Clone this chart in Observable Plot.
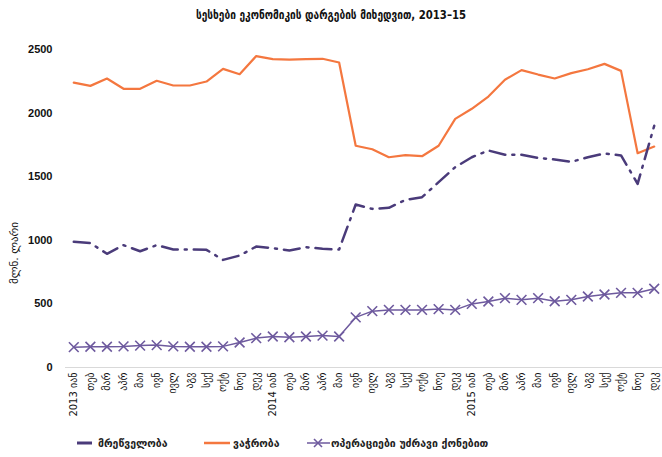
<!DOCTYPE html>
<html>
<head>
<meta charset="utf-8">
<script src="https://cdn.jsdelivr.net/npm/d3@7"></script>
<script src="https://cdn.jsdelivr.net/npm/@observablehq/plot@0.6"></script>
<style>
  body { margin: 0; background: #fff; }
  #wrap { position: relative; width: 662px; height: 457px; font-family: "DejaVu Sans", sans-serif; }
  #title { position: absolute; left: 0; top: 7px; width: 662px; text-align: center; font-size: 13px; font-weight: bold; color: #111; transform: scaleX(0.78); transform-origin: 331px 50%; }
  #chart { position: absolute; left: 0; top: 36px; }
  #ylab { position: absolute; left: 14px; top: 253px; transform: translate(-50%, -50%) rotate(-90deg); font-size: 11px; color: #111; white-space: nowrap; }
  .leg { position: absolute; top: 433px; height: 20px; display: flex; align-items: center; font-size: 10.5px; font-weight: bold; color: #222; white-space: nowrap; }
  svg [aria-label="y-axis tick label"] { font-weight: bold; }
</style>
</head>
<body>
<div id="wrap">
  <div id="title"></div>
  <div id="chart"></div>
  <div id="ylab"></div>
  <div id="legend"></div>
</div>
<script>
const title = "სესხები ეკონომიკის დარგების მიხედვით, 2013–15";
const yLabel = "მლნ. ლარი";
const years = [2013, 2014, 2015];
const months = ["იან","თებ","მარ","აპრ","მაი","ივნ","ივლ","აგვ","სექ","ოქტ","ნოე","დეკ"];
const yTicks = [0, 500, 1000, 1500, 2000, 2500];
const seriesNames = ["მრეწველობა", "ვაჭრობა", "ოპერაციები უძრავი ქონებით"];
const colors = ["#4a3b7a", "#f4773f", "#6e5a9e"];

const industry = [988,978,894,962,914,962,928,928,925,846,880,951,938,920,946,933,928,1281,1247,1255,1318,1339,1457,1575,1653,1706,1672,1672,1648,1635,1617,1653,1682,1667,1444,1900];
const trade = [2240,2214,2272,2191,2191,2254,2217,2217,2248,2348,2306,2448,2424,2421,2424,2427,2398,1743,1716,1653,1669,1661,1743,1955,2034,2130,2262,2338,2303,2272,2314,2345,2387,2332,1685,1737];
const realEstate = [160,163,163,166,172,176,166,163,163,166,197,231,244,238,244,251,244,394,443,453,453,453,459,453,500,519,545,532,545,521,532,558,574,587,587,619];

const labels = [];
years.forEach(y => months.forEach((m, j) => labels.push(j === 0 ? y + " " + m : m)));
const idx = d3.range(labels.length);

document.getElementById("title").textContent = title;
document.getElementById("ylab").textContent = yLabel;

const plot = Plot.plot({
  width: 662,
  height: 391,
  marginLeft: 65,
  marginRight: 0,
  marginTop: 13,
  marginBottom: 60,
  style: { fontFamily: "DejaVu Sans, sans-serif", fontSize: "10px", color: "#111", background: "#fff" },
  x: { type: "point", domain: idx, padding: 0.5, round: false, label: null },
  y: { domain: [0, 2500], label: null },
  marks: [
    Plot.ruleY([0], { stroke: "#d9d9d9", strokeWidth: 1.2 }),
    Plot.axisX({ tickFormat: i => labels[i], tickRotate: -90, tickSize: 0, tickPadding: 5, fontSize: 10, fill: "#111" }),
    Plot.axisY({ ticks: yTicks, tickFormat: d => String(d), tickSize: 0, tickPadding: 13, fontSize: 11, fontFamily: "Liberation Sans, Arial, sans-serif", fill: "#111" }),
    Plot.lineY(realEstate, { x: idx, y: realEstate, stroke: colors[2], strokeWidth: 1.5 }),
    Plot.dot(realEstate, { x: idx, y: realEstate, symbol: "times", r: 4.5, stroke: colors[2], strokeWidth: 1.6 }),
    Plot.lineY(trade, { x: idx, y: trade, stroke: colors[1], strokeWidth: 2.2, curve: "linear" }),
    Plot.lineY(industry, { x: idx, y: industry, stroke: colors[0], strokeWidth: 2.5, strokeDasharray: "16,7,2,7", curve: "linear" })
  ]
});
document.getElementById("chart").appendChild(plot);

// legend
const legendPos = [77, 204, 307];
const legend = document.getElementById("legend");
seriesNames.forEach((name, k) => {
  const div = document.createElement("div");
  div.className = "leg";
  div.style.left = legendPos[k] + "px";
  let sw;
  if (k === 0) sw = `<svg width="21" height="12"><line x1="0" y1="6" x2="15" y2="6" stroke="${colors[0]}" stroke-width="3"/></svg>`;
  else if (k === 1) sw = `<svg width="29" height="12"><line x1="0" y1="6" x2="26" y2="6" stroke="${colors[1]}" stroke-width="2.5"/></svg>`;
  else sw = `<svg width="24" height="12"><line x1="0" y1="6" x2="23" y2="6" stroke="${colors[2]}" stroke-width="1.5"/><path d="M7,2L15,10M15,2L7,10" stroke="${colors[2]}" stroke-width="1.6"/></svg>`;
  div.innerHTML = sw + `<span>${name}</span>`;
  legend.appendChild(div);
});
</script>
</body>
</html>
